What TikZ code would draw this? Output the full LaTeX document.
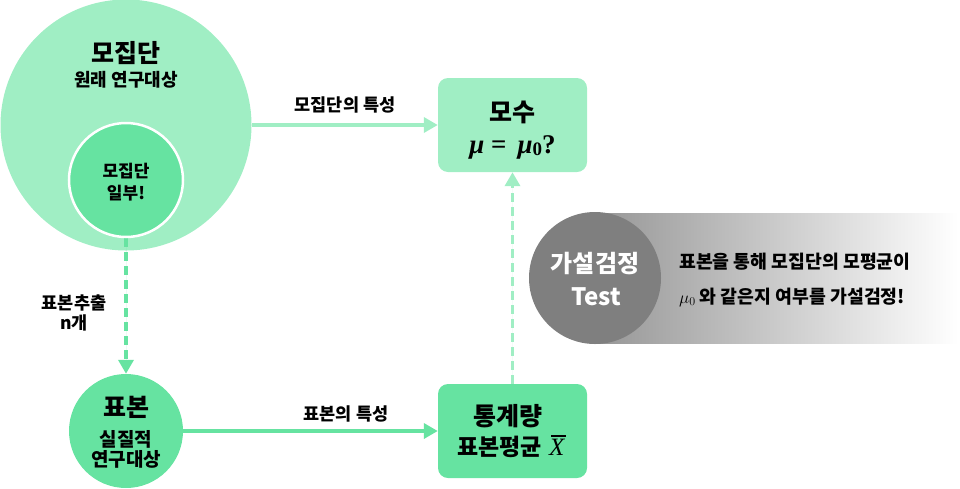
\documentclass[tikz,border=0pt]{standalone}
\usepackage{fontspec}
\setmainfont{Noto Sans CJK KR}
\newfontfamily\lserif{Liberation Serif}
\usetikzlibrary{arrows.meta}
\definecolor{lgreen}{HTML}{A0EEC4}
\definecolor{mgreen}{HTML}{66E3A1}
\definecolor{dgray}{HTML}{7F7F7F}
\tikzset{
  fs/.style={font=\fontsize{#1}{#1}\selectfont\bfseries},
  txt/.style={inner sep=0pt, align=center},
  conn/.style={line width=3.5pt, -{Triangle[width=15pt,length=14pt]}},
  dconn/.style={conn, dash pattern=on 9pt off 5pt},
}
\begin{document}
\begin{tikzpicture}[x=1pt,y=-1pt]
\useasboundingbox (0,0) rectangle (960,488);
% gray band
\shade[left color={rgb,255:red,150;green,150;blue,150}, right color=white] (595,213) rectangle (958,343);
\node[circle, fill=dgray, minimum size=132pt, inner sep=0pt] (test) at (595,278) {};
\node[txt, fs=24, text=white] (testa) at (595,264) {가설검정};
\node[txt, fs=24, text=white] (testb) at (596,297) {Test};
\node[txt, fs=18.3, anchor=west] (ta) at (679,262) {표본을 통해 모집단의 모평균이};
\node[txt, fs=18.3, anchor=west] (tb) at (679,297) {$\mu_0$ 와 같은지 여부를 가설검정!};
% population
\node[circle, fill=lgreen, minimum size=251pt, inner sep=0pt] (pop) at (126,125) {};
\node[txt, fs=25] (popa) at (126,53) {모집단};
\node[txt, fs=18] (popb) at (126,80) {원래 연구대상};
% sample
\node[circle, fill=mgreen, minimum size=114pt, inner sep=0pt] (sample) at (126,431) {};
\node[txt, fs=25] (sa) at (126,407) {표본};
\node[txt, fs=19] (sb) at (126,439) {실질적};
\node[txt, fs=19] (sc) at (126,459) {연구대상};
% dashed sampling arrow
\draw[dconn, draw=mgreen, fill=mgreen] (126,238) coordinate (ds) -- (sample.north);
% part circle
\node[circle, fill=mgreen, draw=white, line width=2.5pt, minimum size=114pt, inner sep=0pt] (part) at (126,180) {};
\node[txt, fs=17] (pa) at (126,171) {모집단};
\node[txt, fs=17] (pb) at (126,193) {일부!};
\node[txt, fs=17.5] (samp) at (74,313) {표본추출\\[3pt]n개};
% boxes
\node[rounded corners=10pt, fill=lgreen, minimum width=149pt, minimum height=94pt] (param) at (512.5,125) {};
\node[txt, fs=25] (pra) at (512.5,112) {모수};
\node[txt, font=\fontsize{27}{27}\lserif\bfseries] (prb) at (512.5,147) {\textit{μ} = \,\textit{μ}\raisebox{-0.2ex}{\fontsize{19}{19}\selectfont 0}?};
\node[rounded corners=10pt, fill=mgreen, minimum width=149pt, minimum height=94pt] (stat) at (512.5,431) {};
\node[txt, fs=25] (sta) at (508,416) {통계량};
\node[txt, fs=23, anchor=base west] (stb) at (457,455) {표본평균};
\node[inner sep=0pt, anchor=base west, font=\fontsize{25}{25}\lserif\itshape] (xb) at (549,455) {X};
\draw[line width=1.3pt] ([xshift=2pt,yshift=2.5pt]xb.north west) -- ([xshift=1pt,yshift=2.5pt]xb.north east);
% connectors
\draw[conn, draw=lgreen, fill=lgreen] (pop.east) -- (param.west);
\draw[conn, draw=mgreen, fill=mgreen] (sample.east) -- (stat.west);
\draw[dconn, draw=lgreen, fill=lgreen] (stat.north) -- (param.south);
\node[txt, fs=17.5] (la) at (345,105) {모집단의 특성};
\node[txt, fs=17.5] (lb) at (346,414) {표본의 특성};
\end{tikzpicture}
\end{document}
